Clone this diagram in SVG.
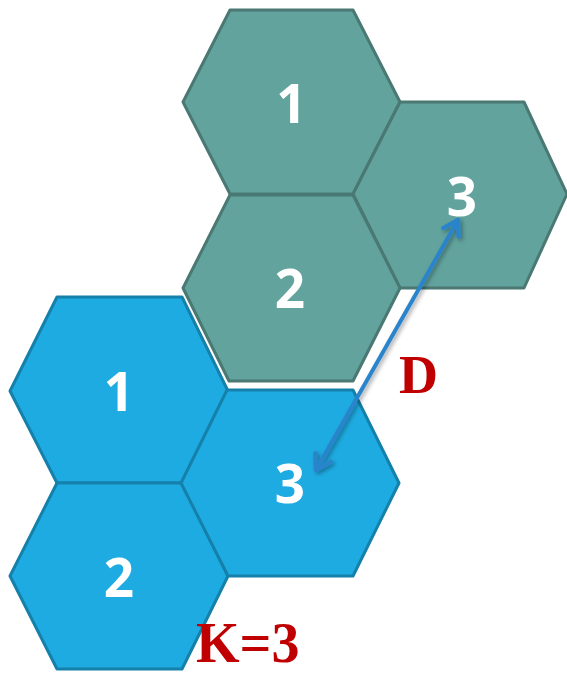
<svg xmlns="http://www.w3.org/2000/svg" width="567" height="675" viewBox="0 0 567 675">
<style>
.blue{fill:#1eabe2;stroke:#1580a9;stroke-width:3;stroke-linejoin:round}
.teal{fill:#62a39e;stroke:#4a7873;stroke-width:3;stroke-linejoin:round}
.num{font-family:"Open Sans","Noto Sans",sans-serif;font-weight:700;font-size:53px;fill:#ffffff;text-anchor:middle}
.lbl{font-family:"Liberation Serif","Times New Roman",serif;font-weight:700;font-size:54px;fill:#c00000}
.conn{stroke:#2a84cb;stroke-width:4;fill:none}
</style>
<defs>
<marker id="ah" viewBox="0 0 20 20" refX="16" refY="10" markerWidth="5.5" markerHeight="5.5" orient="auto-start-reverse" markerUnits="strokeWidth">
<path d="M3,2 L16,10 L3,18" fill="none" stroke="#2a84cb" stroke-width="4" stroke-linecap="round" stroke-linejoin="round"/>
</marker>
<filter id="sh" x="-20%" y="-20%" width="140%" height="140%">
<feDropShadow dx="2" dy="2" stdDeviation="2" flood-color="#000" flood-opacity="0.35"/>
</filter>
</defs>
<g id="blue-1"><polygon class="blue" points="57,297 182,297 228,391 182,483 57,483 10,391"/><text class="num" x="119" y="411">1</text></g>
<g id="blue-2"><polygon class="blue" points="57,483 182,483 228,576 182,669 57,669 10,576"/><text class="num" x="119" y="597">2</text></g>
<g id="blue-3"><polygon class="blue" points="227,390 353,390 399,483 353,576 228,576 181,483"/><text class="num" x="290" y="503">3</text></g>
<g id="teal-1"><polygon class="teal" points="230,10 353,10 400,102 353,194 230,194 183,102"/><text class="num" x="291.5" y="123">1</text></g>
<g id="teal-3"><polygon class="teal" points="400,102 524,102 567,194 524,288 400,288 353,194"/><text class="num" x="462" y="216">3</text></g>
<g id="teal-2"><polygon class="teal" points="230,195 353,195 400,288 353,381 229,381 183,288"/><text class="num" x="290" y="308">2</text></g>
<g id="connectors" filter="url(#sh)">
<line class="conn" x1="316" y1="470" x2="458" y2="220" marker-start="url(#ah)" marker-end="url(#ah)"/>
</g>
<g id="labels">
<text class="lbl" x="399" y="393">D</text>
<text class="lbl" x="196" y="662" style="font-size:56px">K=3</text>
</g>
</svg>
